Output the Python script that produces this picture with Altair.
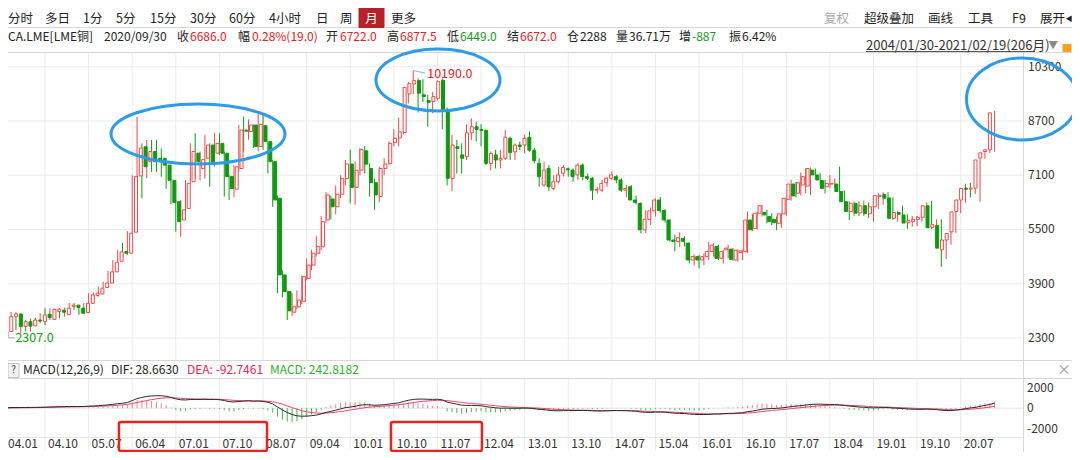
import altair as alt
import pandas as pd

FONT = "Noto Sans CJK SC"
W, H = 1064, 444

# ---------------- data ----------------
MONTHS = [f"{y}/{m:02d}" for y in range(2004, 2022) for m in range(1, 13)][:206]

OPEN = [
    2330, 2490, 2930, 3010, 2640, 2780, 2660, 2830, 2790, 3000, 2850, 3080,
    3120, 2990, 3230, 3270, 3180, 3050, 3320, 3550, 3600, 3790, 3920, 4250,
    4560, 4850, 4800, 5420, 7080, 7940, 7500, 7800, 7600, 7600, 7400, 6950,
    6320, 5780, 6120, 6910, 7750, 7300, 7600, 7990, 7750, 8040, 7750, 7060,
    6690, 7300, 8430, 8390, 8580, 7950, 8560, 8090, 7500, 6420, 4160, 3670,
    3060, 3220, 3380, 4060, 4450, 4800, 4990, 5780, 6400, 6170, 6540, 7000,
    7430, 6740, 7250, 7820, 7300, 6880, 6470, 7300, 7450, 8060, 8200, 8360,
    9500, 9790, 9890, 9470, 9300, 9270, 9370, 9900, 9040, 7000, 7940, 7700,
    7650, 8350, 8530, 8450, 8420, 7450, 7700, 7550, 7600, 8190, 7790, 7990,
    7990, 8220, 7840, 7450, 6810, 7300, 6710, 6910, 7160, 7290, 7250, 7110,
    7400, 7060, 7010, 6660, 6660, 6880, 7010, 7060, 6960, 6660, 6760, 6370,
    6270, 5490, 5800, 6050, 6370, 6060, 5780, 5190, 5140, 5240, 5100, 4600,
    4700, 4600, 4700, 4850, 5000, 4650, 4900, 4920, 4600, 4820, 4850, 5780,
    5530, 5980, 6000, 5880, 5800, 5680, 5960, 6390, 6840, 6570, 6810, 6780,
    7250, 7110, 6940, 6760, 6840, 6840, 6620, 6320, 6030, 6270, 5990, 6200,
    5965, 6170, 6470, 6530, 6430, 5830, 6000, 5930, 5700, 5740, 5800, 5860,
    6200, 5560, 5620, 4900, 5190, 5430, 6030, 6370, 6722, 6690, 6720, 7610,
    7800, 7850,
]
HIGH = [
    2560, 3030, 3070, 3060, 2830, 2830, 2880, 2900, 3030, 3180, 3170, 3170,
    3180, 3200, 3330, 3330, 3200, 3330, 3620, 3640, 3820, 3960, 4280, 4600,
    4900, 5100, 5450, 7100, 8830, 8040, 8140, 8140, 8140, 7890, 7450, 7000,
    6350, 6370, 6960, 8040, 8340, 7800, 8290, 8040, 8340, 8340, 7800, 7100,
    7400, 8580, 8830, 8750, 8600, 8930, 8900, 8100, 7550, 6500, 4300, 3700,
    3620, 3700, 4140, 4650, 4900, 5300, 5900, 6600, 6500, 6800, 7100, 7550,
    7850, 7500, 7900, 7960, 7450, 7000, 7350, 7600, 8100, 8450, 8800, 9700,
    9850, 10190, 9950, 9930, 9470, 9560, 9900, 9950, 9100, 8290, 8140, 8040,
    8600, 8780, 8680, 8600, 8450, 7800, 7850, 7850, 8430, 8240, 8040, 8090,
    8290, 8390, 7900, 7600, 7500, 7400, 7100, 7350, 7400, 7330, 7300, 7450,
    7450, 7150, 7050, 6760, 6960, 7050, 7210, 7110, 7010, 6810, 6810, 6500,
    6300, 6070, 6150, 6420, 6460, 6100, 5800, 5350, 5420, 5300, 5120, 4760,
    4750, 4800, 5140, 5100, 5050, 4900, 5050, 4950, 4920, 4900, 6030, 5950,
    6030, 6230, 6080, 5980, 5880, 5980, 6440, 6970, 6900, 7180, 7300, 7330,
    7300, 7160, 6960, 7110, 7000, 7350, 6650, 6330, 6330, 6330, 6350, 6300,
    6250, 6570, 6600, 6600, 6450, 6050, 6200, 5950, 5900, 5900, 6000, 6300,
    6340, 5800, 5800, 5250, 5450, 6060, 6600, 6850, 6877.5, 6950, 7610, 7800,
    8240, 9000,
]
LOW = [
    2307, 2470, 2880, 2540, 2440, 2490, 2490, 2720, 2730, 2680, 2830, 2980,
    2880, 2930, 3080, 3130, 2980, 3020, 3270, 3470, 3520, 3770, 3860, 4200,
    4480, 4650, 4750, 5380, 7000, 6420, 7010, 7200, 7200, 7060, 6700, 6250,
    5440, 5290, 5950, 6860, 7000, 6960, 7000, 6760, 7350, 7700, 6470, 6370,
    6450, 7200, 7800, 8150, 7900, 7800, 7850, 7160, 6170, 3620, 3500, 2830,
    2950, 3150, 3300, 4000, 4300, 4700, 4900, 5700, 5800, 5950, 6420, 6800,
    6270, 6230, 7100, 7150, 6470, 6080, 6300, 7100, 7400, 7950, 7950, 8300,
    9220, 9500, 8950, 9260, 8530, 8930, 9300, 8450, 6800, 6640, 7150, 7150,
    7550, 8140, 8100, 7950, 7400, 7250, 7300, 7300, 7550, 7550, 7550, 7840,
    7750, 7790, 7450, 6760, 6760, 6640, 6660, 6860, 7060, 7060, 6910, 6960,
    6950, 6960, 6370, 6560, 6600, 6760, 6960, 6860, 6610, 6450, 6370, 6240,
    5390, 5390, 5630, 5880, 6000, 5700, 5140, 4860, 4980, 5000, 4500, 4440,
    4350, 4450, 4600, 4700, 4600, 4500, 4650, 4580, 4550, 4600, 4800, 5450,
    5500, 5880, 5680, 5630, 5480, 5550, 5900, 6350, 6450, 6500, 6570, 6520,
    7100, 6810, 6560, 6710, 6760, 6610, 6050, 5780, 5900, 5900, 5900, 5840,
    5730, 6100, 6230, 6300, 5780, 5730, 5870, 5520, 5580, 5600, 5730, 5830,
    5510, 5530, 4400, 4630, 5050, 5400, 5980, 6290, 6449, 6550, 6320, 7580,
    7750, 7800,
]
CLOSE = [
    2490, 2930, 3010, 2640, 2780, 2650, 2830, 2800, 2980, 2900, 3140, 3150,
    3060, 3180, 3270, 3200, 3030, 3320, 3570, 3620, 3770, 3920, 4250, 4530,
    4840, 4800, 5390, 7060, 7900, 7350, 7800, 7500, 7550, 7400, 6950, 6300,
    5730, 6080, 6860, 7800, 7500, 7560, 7990, 7500, 8040, 7750, 7060, 6710,
    7350, 8430, 8400, 8580, 7950, 8600, 8090, 7500, 6370, 4160, 3670, 3100,
    3220, 3420, 4110, 4450, 4800, 5000, 5730, 6520, 6170, 6540, 7000, 7430,
    6740, 7250, 7860, 7430, 6880, 6520, 7300, 7430, 8040, 8190, 8380, 9690,
    9800, 9890, 9520, 9420, 9250, 9420, 9860, 9040, 7010, 7990, 7890, 7600,
    8350, 8530, 8450, 8420, 7450, 7740, 7550, 7600, 8220, 7770, 7990, 7950,
    8190, 7840, 7530, 7060, 7250, 6760, 6910, 7110, 7330, 7260, 7060, 7400,
    7060, 7010, 6660, 6680, 6860, 7010, 7110, 6960, 6660, 6710, 6370, 6300,
    5490, 5800, 6050, 6370, 6060, 5780, 5190, 5150, 5260, 5150, 4600, 4700,
    4600, 4700, 4850, 5040, 4650, 4850, 4950, 4620, 4890, 4870, 5780, 5490,
    5980, 6200, 5930, 5730, 5700, 5960, 6420, 6840, 6490, 6880, 7060, 7300,
    7110, 6960, 6710, 6860, 6860, 6620, 6320, 6030, 6270, 5980, 6200, 5965,
    6170, 6500, 6510, 6420, 5830, 6000, 5950, 5690, 5760, 5800, 5860, 6200,
    5550, 5640, 4950, 5190, 5380, 6020, 6370, 6710, 6686, 6720, 7550, 7760,
    7850, 8940,
]

PRICE_TICKS = [2300, 3900, 5500, 7100, 8700, 10300]
MACD_TICKS = [-2000, 0, 2000]
DATE_TICKS = ["04.01", "04.10", "05.07", "06.04", "07.01", "07.10", "08.07",
              "09.04", "10.01", "10.10", "11.07", "12.04", "13.01", "13.10",
              "14.07", "15.04", "16.01", "16.10", "17.07", "18.04", "19.01",
              "19.10", "20.07"]
HIGH_MARK = ("2011/02", 10190.0)
LOW_MARK = ("2004/01", 2307.0)

# ---------------- colours ----------------
RED = "#F04848"
GREEN = "#0E990E"
TXT = "#222222"
VRED = "#E0222A"
VGREEN = "#17991A"
GRID = "#EBEBEB"
LINE = "#D6D6D6"
BLUE = "#2E9BEA"
BOXRED = "#E8231C"

# ---------------- scales (pixel ranges inside the 1064x444 canvas) ----------------
def XS():
    return alt.Scale(domain=[1.362, 210.86], range=[0, 1015], nice=False, zero=False)

def YP():
    return alt.Scale(domain=[2300, 10300], range=[330, 58.73], nice=False, zero=False)

def YM():
    return alt.Scale(domain=[-2000, 2000], range=[420.5, 379.9], nice=False, zero=False)

NOSCALE = dict(scale=None, axis=None)

# ---------------- frames ----------------
df = pd.DataFrame({"i": range(len(MONTHS)), "month": MONTHS,
                   "o": OPEN, "h": HIGH, "l": LOW, "c": CLOSE})
df["dir"] = ["up" if c >= o else "down" for o, c in zip(df.o, df.c)]


def ema(vals, n):
    a = 2.0 / (n + 1)
    out, prev = [], None
    for v in vals:
        prev = v if prev is None else a * v + (1 - a) * prev
        out.append(prev)
    return out

e12, e26 = ema(CLOSE, 12), ema(CLOSE, 26)
dif = [a - b for a, b in zip(e12, e26)]
dea = ema(dif, 9)
mdf = pd.DataFrame({"i": range(len(MONTHS)), "dif": dif, "dea": dea,
                    "m": [2 * (a - b) for a, b in zip(dif, dea)]})
mdf["z"] = 0
mdf["sg"] = ["pos" if v >= 0 else "neg" for v in mdf.m]

idx = {m: k for k, m in enumerate(MONTHS)}
tick_df = pd.DataFrame({"t": DATE_TICKS,
                        "i": [(int(s[:2]) - 4) * 12 + int(s[3:]) - 1 for s in DATE_TICKS]})
ptick_df = pd.DataFrame({"p": PRICE_TICKS, "t": [str(v) for v in PRICE_TICKS]})
mtick_df = pd.DataFrame({"p": MACD_TICKS, "t": [str(v) for v in MACD_TICKS]})

# ---------------- layout (header texts, frame lines) ----------------
R1Y, R2Y, R3Y, SEP1 = 10.5, 28.5, 37.5, 19.5

row1 = pd.DataFrame({
    "t": ["分时", "多日", "1分", "5分", "15分", "30分", "60分", "4小时", "日", "周", "更多",
          "复权", "超级叠加", "画线", "工具", "F9", "展开"],
    "x": [0, 37, 75, 108, 142, 182, 221, 261, 308, 332, 383,
          816, 856, 920, 960, 1004, 1032],
    "col": [TXT] * 11 + ["#A8A8A8"] + [TXT] * 5,
})
row1["y"] = R1Y
row1["fs"] = 12.5

row2 = pd.DataFrame({
    "t": ["CA.LME[LME铜]", "2020/09/30", "收", "6686.0", "幅", "0.28%(19.0)", "开", "6722.0",
          "高", "6877.5", "低", "6449.0", "结", "6672.0", "仓", "2288", "量", "36.71万",
          "增", "-887", "振", "6.42%"],
    "x": [0, 96, 169, 182, 230, 244, 318, 332, 379, 392, 439, 452, 499, 512,
          559, 572, 608, 621, 671, 684, 721, 734],
    "col": [TXT, TXT, TXT, VRED, TXT, VRED, TXT, VRED, TXT, VRED, TXT, VGREEN,
            TXT, VRED, TXT, TXT, TXT, TXT, TXT, VGREEN, TXT, TXT],
})
row2["y"] = R2Y
row2["fs"] = 12

row3 = pd.DataFrame({"t": ["2004/01/30-2021/02/19(206月)", "▼"],
                     "x": [858, 1040], "y": [R3Y, R3Y], "col": ["#333333", "#8C8C8C"],
                     "fs": [13, 10]})

macd_head = pd.DataFrame({
    "t": ["MACD(12,26,9)", "DIF: 28.6630", "DEA: -92.7461", "MACD: 242.8182"],
    "x": [15, 103, 179, 262],
    "col": [TXT, TXT, "#E3264E", "#2EAD2E"],
})
macd_head["y"] = 361.5
macd_head["fs"] = 12

header_txt = pd.concat([row1, row2, row3, macd_head], ignore_index=True)

lines = pd.DataFrame({
    "x": [0, 0, 0, 0, 0, 1015.5, 858],
    "x2": [1064, 1064, 1064, 1064, 1015, 1015.5, 1027],
    "y": [SEP1, 44.5, 352.5, 370.5, 429.5, 44.5, 43.5],
    "y2": [SEP1, 44.5, 352.5, 370.5, 429.5, 444, 43.5],
    "col": [LINE, LINE, LINE, LINE, "#E4E4E4", LINE, "#555555"],
})

boxes = pd.DataFrame({
    "x": [351, 0, 1055], "x2": [376, 11, 1063],
    "y": [0, 355.5, 36.5], "y2": [SEP1, 369.5, 43.5],
    "fill": ["#B82027", "#F2F2F2", "#F2A21E"],
    "stroke": ["#B82027", "#C4C4C4", "#F2A21E"],
})

center_txt = pd.DataFrame({"t": ["月", "?", "×", "◀"], "x": [363.5, 5.5, 1056, 1061],
                           "y": [R1Y, 362, 361.5, R1Y], "col": ["#FFFFFF", "#444444", "#9A9A9A", TXT],
                           "fs": [12.5, 10, 14, 7]})

# annotations (centres in data units)
ELLIPSES = [(40.58, 8316, 174, 0.345), (90.11, 9908, 124, 0.5), (210.65, 9348, 111, 0.74)]
RED_BOXES = pd.DataFrame({"a": [24.27, 80.41], "b": [54.82, 99.19]})


def ellipse_path(r):
    k = 0.5523
    return (f"M-1,0C-1,{-k*r:.4f},{-k:.4f},{-r:.4f},0,{-r:.4f}"
            f"C{k:.4f},{-r:.4f},1,{-k*r:.4f},1,0"
            f"C1,{k*r:.4f},{k:.4f},{r:.4f},0,{r:.4f}"
            f"C{-k:.4f},{r:.4f},-1,{k*r:.4f},-1,0Z")

# ---------------- layers ----------------
layers = []

# price gridlines
layers.append(alt.Chart(ptick_df).mark_rule(color=GRID, strokeWidth=1).encode(
    y=alt.Y("p:Q", scale=YP(), axis=None), x=alt.value(0), x2=alt.value(1015)))
# vertical gridlines (price and MACD panes)
layers.append(alt.Chart(tick_df).mark_rule(color=GRID, strokeWidth=1).encode(
    x=alt.X("i:Q", scale=XS(), axis=None), y=alt.value(44.5), y2=alt.value(352.5)))
layers.append(alt.Chart(tick_df).mark_rule(color=GRID, strokeWidth=1).encode(
    x=alt.X("i:Q", scale=XS(), axis=None), y=alt.value(370.5), y2=alt.value(442)))
# MACD zero line
layers.append(alt.Chart(mtick_df[mtick_df.p == 0]).mark_rule(color="#E6E6E6", strokeWidth=1).encode(
    y=alt.Y("p:Q", scale=YM(), axis=None), x=alt.value(0), x2=alt.value(1015)))

# frame lines
layers.append(alt.Chart(lines).mark_rule(strokeWidth=1).encode(
    x=alt.X("x:Q", **NOSCALE), x2="x2:Q", y=alt.Y("y:Q", **NOSCALE), y2="y2:Q",
    color=alt.Color("col:N", scale=None, legend=None)))
layers.append(alt.Chart(boxes).mark_rect(strokeWidth=1).encode(
    x=alt.X("x:Q", **NOSCALE), x2="x2:Q", y=alt.Y("y:Q", **NOSCALE), y2="y2:Q",
    fill=alt.Fill("fill:N", scale=None, legend=None),
    stroke=alt.Stroke("stroke:N", scale=None, legend=None)))

# candles
dir_scale = alt.Scale(domain=["up", "down"], range=[RED, GREEN])
layers.append(alt.Chart(df).mark_rule(strokeWidth=1).encode(
    x=alt.X("i:Q", scale=XS(), axis=None),
    y=alt.Y("l:Q", scale=YP(), axis=None), y2="h:Q",
    color=alt.Color("dir:N", scale=dir_scale, legend=None)))
layers.append(alt.Chart(df).mark_bar(size=3, strokeWidth=1).encode(
    x=alt.X("i:Q", scale=XS(), axis=None),
    y=alt.Y("o:Q", scale=YP(), axis=None), y2="c:Q",
    fill=alt.Fill("dir:N", scale=alt.Scale(domain=["up", "down"], range=["#FFFFFF", GREEN]), legend=None),
    stroke=alt.Stroke("dir:N", scale=dir_scale, legend=None)))

# MACD histogram and lines
layers.append(alt.Chart(mdf).mark_rule(strokeWidth=1).encode(
    x=alt.X("i:Q", scale=XS(), axis=None),
    y=alt.Y("m:Q", scale=YM(), axis=None), y2="z:Q",
    color=alt.Color("sg:N", scale=alt.Scale(domain=["pos", "neg"], range=["#F28282", "#49B049"]), legend=None)))
layers.append(alt.Chart(mdf).mark_line(strokeWidth=1, color="#E8476C").encode(
    x=alt.X("i:Q", scale=XS(), axis=None), y=alt.Y("dea:Q", scale=YM(), axis=None)))
layers.append(alt.Chart(mdf).mark_line(strokeWidth=1, color="#2A2A2A").encode(
    x=alt.X("i:Q", scale=XS(), axis=None), y=alt.Y("dif:Q", scale=YM(), axis=None)))

# axis labels
layers.append(alt.Chart(ptick_df).mark_text(align="left", baseline="middle", font=FONT, fontSize=12, color="#333333").encode(
    y=alt.Y("p:Q", scale=YP(), axis=None), x=alt.value(1020), text="t:N"))
layers.append(alt.Chart(mtick_df).mark_text(align="left", baseline="middle", font=FONT, fontSize=12, color="#333333").encode(
    y=alt.Y("p:Q", scale=YM(), axis=None), x=alt.value(1019), text="t:N"))
layers.append(alt.Chart(tick_df.iloc[1:]).mark_text(align="left", baseline="middle", dx=3, font=FONT, fontSize=12, color="#333333").encode(
    x=alt.X("i:Q", scale=XS(), axis=None), y=alt.value(436), text="t:N"))
layers.append(alt.Chart(tick_df.iloc[:1]).mark_text(align="left", baseline="middle", font=FONT, fontSize=12, color="#333333").encode(
    x=alt.value(0), y=alt.value(436), text="t:N"))

# high / low markers
hl = pd.DataFrame({"i": [idx[HIGH_MARK[0]], idx[LOW_MARK[0]]],
                   "p": [HIGH_MARK[1], LOW_MARK[1]],
                   "i2": [idx[HIGH_MARK[0]] + 2.5, idx[LOW_MARK[0]] + 2.7],
                   "p2": [HIGH_MARK[1] - 80, LOW_MARK[1]],
                   "t": [f"{HIGH_MARK[1]:.1f}", f"{LOW_MARK[1]:.1f}"],
                   "col": [VRED, VGREEN]})
layers.append(alt.Chart(hl).mark_rule(color="#8FB3D6", strokeWidth=1).encode(
    x=alt.X("i:Q", scale=XS(), axis=None), x2="i2:Q",
    y=alt.Y("p:Q", scale=YP(), axis=None), y2="p2:Q"))
layers.append(alt.Chart(hl.iloc[[0]]).mark_text(align="left", baseline="middle", dx=14, dy=4, font=FONT, fontSize=12.5, color=VRED).encode(
    x=alt.X("i:Q", scale=XS(), axis=None), y=alt.Y("p:Q", scale=YP(), axis=None), text="t:N"))
layers.append(alt.Chart(hl.iloc[[1]]).mark_text(align="left", baseline="middle", dx=14, font=FONT, fontSize=12.5, color=VGREEN).encode(
    x=alt.X("i:Q", scale=XS(), axis=None), y=alt.Y("p:Q", scale=YP(), axis=None), text="t:N"))

# header texts
layers.append(alt.Chart(header_txt).mark_text(align="left", baseline="middle", font=FONT).encode(
    x=alt.X("x:Q", **NOSCALE), y=alt.Y("y:Q", **NOSCALE), text="t:N",
    color=alt.Color("col:N", scale=None, legend=None),
    size=alt.Size("fs:Q", scale=None, legend=None)))
layers.append(alt.Chart(center_txt).mark_text(align="center", baseline="middle", font=FONT).encode(
    x=alt.X("x:Q", **NOSCALE), y=alt.Y("y:Q", **NOSCALE), text="t:N",
    color=alt.Color("col:N", scale=None, legend=None),
    size=alt.Size("fs:Q", scale=None, legend=None)))

# annotations: blue ellipses and red boxes
for (ci, cp, w, r) in ELLIPSES:
    layers.append(alt.Chart(pd.DataFrame({"i": [ci], "p": [cp]})).mark_point(
        shape=ellipse_path(r), size=w * w, filled=False, stroke=BLUE, strokeWidth=3, opacity=1).encode(
        x=alt.X("i:Q", scale=XS(), axis=None), y=alt.Y("p:Q", scale=YP(), axis=None)))
layers.append(alt.Chart(RED_BOXES).mark_rect(fillOpacity=0, stroke=BOXRED, strokeWidth=2.5, cornerRadius=2).encode(
    x=alt.X("a:Q", scale=XS(), axis=None), x2="b:Q", y=alt.value(414), y2=alt.value(443)))

chart = alt.layer(*layers).resolve_scale(
    x="independent", y="independent", color="independent",
    fill="independent", stroke="independent", size="independent"
).properties(
    width=W, height=H, autosize=alt.AutoSizeParams(type="none"), padding=0, background="#FFFFFF"
).configure_view(stroke=None)

chart.save("out.html", embed_options={"renderer": "svg", "actions": False})
